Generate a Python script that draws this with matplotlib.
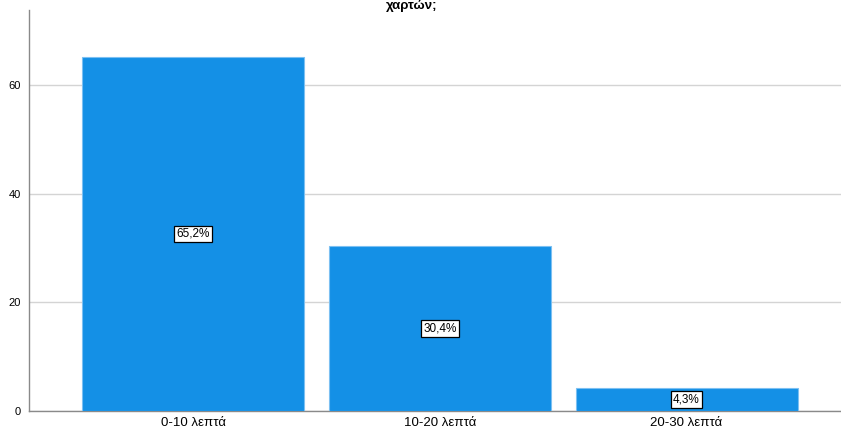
import matplotlib
matplotlib.use("Agg")
import matplotlib.pyplot as plt

# Data
categories = ["0-10 λεπτά", "10-20 λεπτά", "20-30 λεπτά"]
percents = [65.2, 30.4, 4.3]
value_labels = ["65,2%", "30,4%", "4,3%"]
y_ticks = [0, 20, 40, 60]
title_tail = "χαρτών;"

plt.rcParams["font.family"] = ["Liberation Sans", "DejaVu Sans"]

fig = plt.figure(figsize=(8.41, 4.37), dpi=100)
ax = fig.add_axes([29 / 841, 1 - 411 / 437, 1 - 29 / 841, (411 - 10) / 437])

x = list(range(len(categories)))
ax.bar(x, percents, width=0.9, color="#1490e6", edgecolor="#7cc0f2",
       linewidth=0.8, zorder=3)

for xi, p, lab in zip(x, percents, value_labels):
    ax.text(xi, p / 2, lab, ha="center", va="center", fontsize=8.5, zorder=4,
            bbox=dict(boxstyle="square,pad=0.2", facecolor="white",
                      edgecolor="black", linewidth=0.9))

ax.set_xlim(-0.665, 2.626)
ax.set_ylim(0, 73.8)
ax.set_yticks(y_ticks)
ax.set_xticks(x)
ax.set_xticklabels(categories, fontsize=9.5)
ax.tick_params(axis="y", length=0, labelsize=8, pad=6)
ax.tick_params(axis="x", length=0, pad=4)
ax.yaxis.grid(True, color="#d4d4d4", linewidth=1.0, zorder=0)
ax.set_axisbelow(True)

for side in ("top", "right"):
    ax.spines[side].set_visible(False)
for side in ("left", "bottom"):
    ax.spines[side].set_color("#8a8a8a")
    ax.spines[side].set_linewidth(1.0)

fig.text(412 / 841, 1.0, title_tail, ha="center", va="top",
         fontsize=9.5, fontweight="bold")

fig.savefig("out.png", dpi=100, facecolor="white")
